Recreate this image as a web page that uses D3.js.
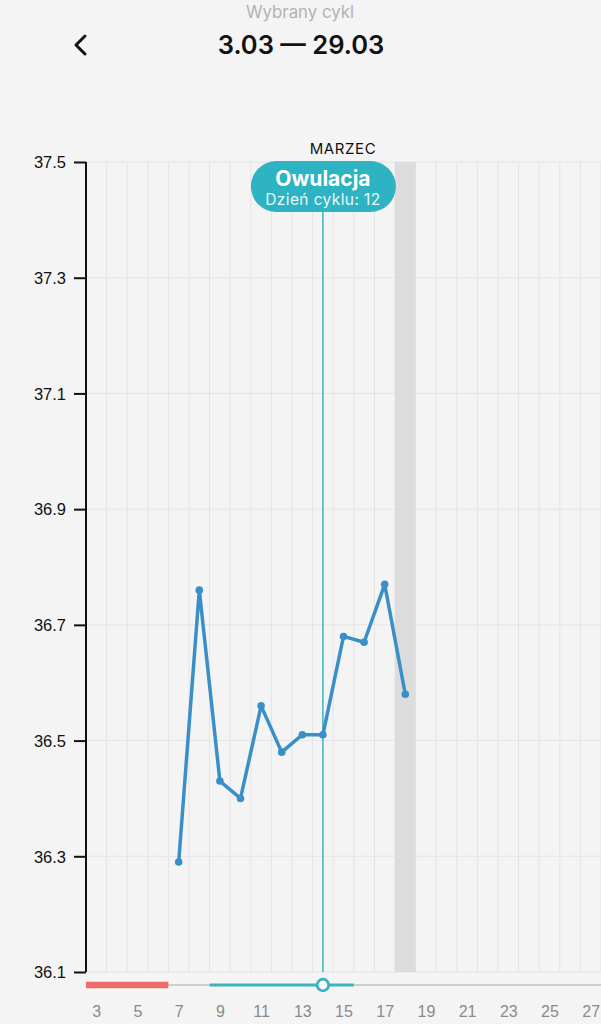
<!DOCTYPE html>
<html><head><meta charset="utf-8">
<script src="https://cdn.jsdelivr.net/npm/d3@7/dist/d3.min.js"></script>
<style>
html,body{margin:0;padding:0;background:#f4f4f4;}
svg{display:block;font-family:Inter,"Noto Sans",Roboto,Arial,sans-serif;}
</style></head>
<body>
<svg id="c" width="601" height="1024"></svg>
<script>
const days = [7,8,9,10,11,12,13,14,15,16,17,18];
const temps = [36.29,36.76,36.43,36.40,36.56,36.48,36.51,36.51,36.68,36.67,36.77,36.58];
const yTicks = [37.5,37.3,37.1,36.9,36.7,36.5,36.3,36.1];
const xTicks = [3,5,7,9,11,13,15,17,19,21,23,25,27];
const periodDays = [3,6];
const fertileDays = [9,15];
const ovulationDay = 14;
const todayDay = 18;
const cycleDay = 12;
const monthLabel = "MARZEC";
const title = "3.03 — 29.03";
const subtitle = "Wybrany cykl";

const svg = d3.select("#c");
const x = d3.scaleLinear().domain([2.5,27.5]).range([86,601]);
const y = d3.scaleLinear().domain([36.1,37.5]).range([972,162]);
const step = x(1)-x(0);

svg.append("rect").attr("width",601).attr("height",1024).attr("fill","#f4f4f4");

// header
svg.append("text").attr("x",300).attr("y",18).attr("text-anchor","middle")
  .attr("font-size",16.8).attr("fill","#b3b3b3").text(subtitle);
svg.append("text").attr("x",301).attr("y",54).attr("text-anchor","middle")
  .attr("font-size",25.5).attr("font-weight","600").attr("fill","#111").text(title);
svg.append("path").attr("d","M85,36 L76,45 L85,54").attr("fill","none")
  .attr("stroke","#111").attr("stroke-width",3).attr("stroke-linecap","round").attr("stroke-linejoin","round");

// vertical grid at half days
const vg = d3.range(3.5,27.6,1);
svg.append("g").selectAll("line").data(vg).join("line")
  .attr("x1",d=>x(d)).attr("x2",d=>x(d)).attr("y1",y(37.5)).attr("y2",y(36.1))
  .attr("stroke","#e4e4e4").attr("stroke-width",1);
// horizontal grid
svg.append("g").selectAll("line").data(yTicks).join("line")
  .attr("x1",x(2.5)).attr("x2",601).attr("y1",d=>y(d)).attr("y2",d=>y(d))
  .attr("stroke","#e4e4e4").attr("stroke-width",1);

// today band
svg.append("rect").attr("x",x(todayDay-0.5)).attr("width",step)
  .attr("y",y(37.5)).attr("height",y(36.1)-y(37.5)).attr("fill","#dcdcdc");

// y axis
const yAxis = d3.axisLeft(y).tickValues(yTicks).tickFormat(d3.format(".1f")).tickSize(12).tickPadding(8);
const ya = svg.append("g").attr("transform",`translate(${x(2.5)},0)`).call(yAxis);
ya.select(".domain").attr("stroke","#111").attr("stroke-width",2).attr("d",`M0,${y(37.5)}V${y(36.1)}`);
ya.selectAll(".tick line").attr("stroke","#111").attr("stroke-width",2);
ya.selectAll(".tick text").attr("font-size",16.5).attr("fill","#111").attr("font-family","inherit").attr("dy","0.35em");

// ovulation line
svg.append("line").attr("x1",x(ovulationDay)).attr("x2",x(ovulationDay))
  .attr("y1",200).attr("y2",y(36.1)).attr("stroke","#3bb3bf").attr("stroke-width",1.5);

// temperature line
const pts = days.map((d,i)=>[d,temps[i]]);
svg.append("path").datum(pts)
  .attr("d",d3.line().x(d=>x(d[0])).y(d=>y(d[1])))
  .attr("fill","none").attr("stroke","#3a8fc8").attr("stroke-width",3.5).attr("stroke-linejoin","round");
svg.append("g").selectAll("circle").data(pts).join("circle")
  .attr("cx",d=>x(d[0])).attr("cy",d=>y(d[1])).attr("r",3.8).attr("fill","#3a8fc8");

// month label
svg.append("text").attr("x",343).attr("y",154).attr("text-anchor","middle")
  .attr("font-size",15).attr("fill","#111").attr("letter-spacing","0.6").text(monthLabel);

// tooltip
const tx = x(ovulationDay);
svg.append("rect").attr("x",tx-72).attr("y",161).attr("width",145).attr("height",51).attr("rx",25.5)
  .attr("fill","#2eb3c2");
svg.append("text").attr("x",tx).attr("y",186).attr("text-anchor","middle")
  .attr("font-size",21).attr("font-weight","700").attr("fill","#fff").text("Owulacja");
svg.append("text").attr("x",tx).attr("y",205).attr("text-anchor","middle")
  .attr("font-size",15.5).attr("fill","#e8f8fa").attr("letter-spacing","0.4").text("Dzień cyklu: " + cycleDay);

// bottom timeline
const by = 985;
svg.append("line").attr("x1",x(2.5)).attr("x2",601).attr("y1",by).attr("y2",by)
  .attr("stroke","#cfcfcf").attr("stroke-width",2);
svg.append("line").attr("x1",x(periodDays[0]-0.5)).attr("x2",x(periodDays[1]+0.5)).attr("y1",by).attr("y2",by)
  .attr("stroke","#ee6b6b").attr("stroke-width",6.5);
svg.append("line").attr("x1",x(fertileDays[0]-0.5)).attr("x2",x(fertileDays[1]+0.5)).attr("y1",by).attr("y2",by)
  .attr("stroke","#3bb3bf").attr("stroke-width",3);
svg.append("circle").attr("cx",x(ovulationDay)).attr("cy",by).attr("r",5.8)
  .attr("fill","#fff").attr("stroke","#3bb3bf").attr("stroke-width",2.8);

// x axis labels
const xAxis = d3.axisBottom(x).tickValues(xTicks).tickSize(0).tickPadding(0);
const xa = svg.append("g").attr("transform","translate(0,1011)").call(xAxis);
xa.select(".domain").remove();
xa.selectAll(".tick text").attr("font-size",16).attr("fill","#8a8a8a").attr("font-family","inherit").attr("dy","0.35em");
</script>
</body></html>
